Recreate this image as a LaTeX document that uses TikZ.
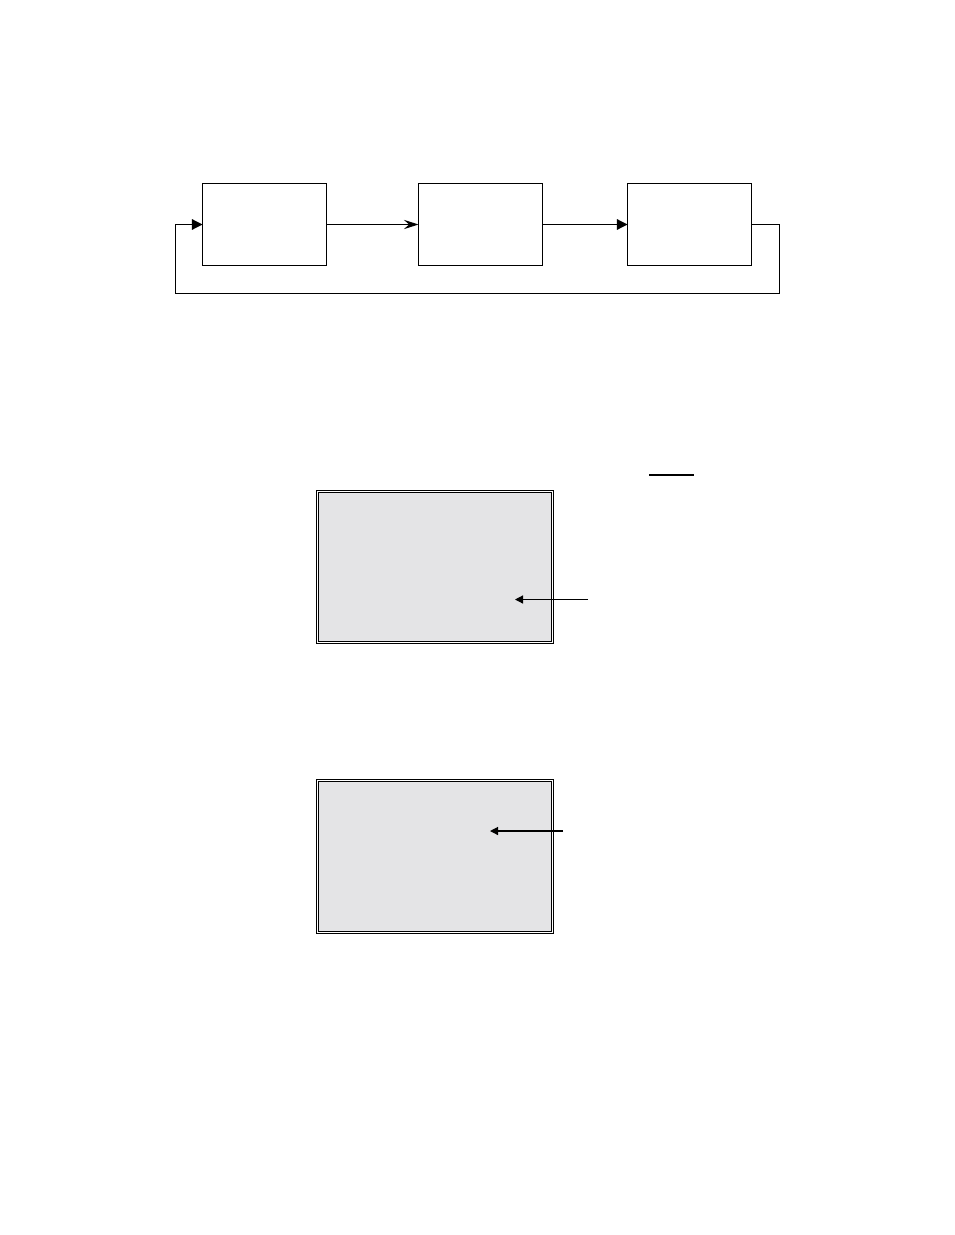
\documentclass[tikz,border=0pt]{standalone}
\usetikzlibrary{arrows.meta}
\definecolor{panelgray}{RGB}{228,228,230}
\begin{document}
\begin{tikzpicture}[x=0.75pt,y=-0.75pt,
  blockbox/.style={draw=black, line width=0.9pt, minimum width=93pt, minimum height=61.5pt, inner sep=0pt, outer sep=0pt, anchor=north west},
  panel/.style={draw=black, double=white, double distance=0.9pt, line width=0.7pt, fill=panelgray, inner sep=0pt, outer sep=0pt, anchor=north west},
  conn/.style={line width=0.9pt},
  tri/.style={-{Triangle[length=8pt,width=8pt]}},
  stl/.style={-{Stealth[length=11pt,width=7pt,inset=4pt]}},
  smalltri/.style={line width=0.9pt, -{Triangle[length=6pt,width=6pt]}}
]
\useasboundingbox (0,0) rectangle (954,1235);
% top row of blocks
\node[blockbox] (b1) at (202.5,183.5) {};
\node[blockbox] (b2) at (418.5,183.5) {};
\node[blockbox] (b3) at (627.5,183.5) {};
\draw[conn,stl] (b1.east) -- (b2.west);
\draw[conn,tri] (b2.east) -- (b3.west);
\draw[conn,tri] (b3.east) -- ++(28,0) |- (175.5,293.5) |- (b1.west);
% short line
\coordinate (ls) at (649,475);
\coordinate (le) at (694,475);
\draw[conn] (ls) -- (le);
% shaded panels
\node[panel, minimum width=176.3pt, minimum height=113.5pt] (pa) at (317.5,491.3) {};
\coordinate (pafree) at (588,599.5);
\coordinate (patip) at (515,599.5);
\draw[smalltri] (pafree) -- (patip);
\node[panel, minimum width=176.3pt, minimum height=114pt] (pb) at (317.5,780.3) {};
\coordinate (pbfree) at (563,831);
\coordinate (pbtip) at (490,831);
\draw[smalltri] (pbfree) -- (pbtip);
\end{tikzpicture}
\end{document}
